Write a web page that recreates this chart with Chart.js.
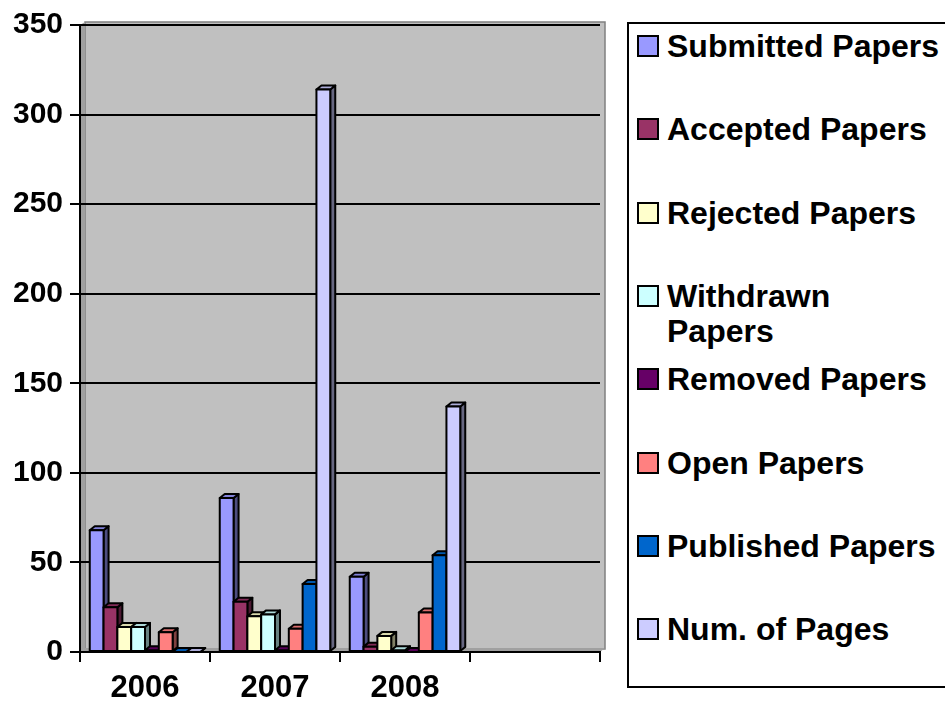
<!DOCTYPE html>
<html><head><meta charset="utf-8">
<script src="https://cdn.jsdelivr.net/npm/chart.js@4"></script>
<style>
html,body{margin:0;padding:0;background:#fff;overflow:hidden}
#wrap{position:relative;width:945px;height:704px}
#c{position:absolute;left:0;top:0}
#legend{position:absolute;left:627px;top:22px;width:340px;height:666px;border:2px solid #000;box-sizing:border-box;background:#fff}
.item{position:absolute;left:8px;display:flex;align-items:flex-start;font:bold 32px "Liberation Sans",Arial,sans-serif;line-height:35px;color:#000}
.sw{width:18px;height:18px;border:2px solid #000;margin-top:6px;margin-right:8px;flex:none}
.lbl{width:276px}
</style>
</head><body>
<div id="wrap">
<canvas id="c" width="945" height="704"></canvas>
<div id="legend"></div>
</div>
<script>
const categories = ['2006', '2007', '2008', ''];
const seriesNames = ['Submitted Papers','Accepted Papers','Rejected Papers','Withdrawn Papers','Removed Papers','Open Papers','Published Papers','Num. of Pages'];
const submitted = [68, 86, 42, null];
const accepted  = [25, 28, 3, null];
const rejected  = [14, 20, 9, null];
const withdrawn = [14, 21, 1, null];
const removed   = [1, 1, 0, null];
const openP     = [11, 13, 22, null];
const published = [0, 38, 54, null];
const pages     = [0, 314, 137, null];
const yTicks = [0, 50, 100, 150, 200, 250, 300, 350];
const seriesColors = ['#9999FF','#993366','#FFFFCC','#CCFFFF','#660066','#FF8080','#0066CC','#CCCCFF'];

const seriesValues = [submitted, accepted, rejected, withdrawn, removed, openP, published, pages];
const DX = 5, DY = 4;

function shade(hex, f){
  const n = parseInt(hex.slice(1),16);
  const r = Math.round(((n>>16)&255)*f), g = Math.round(((n>>8)&255)*f), b = Math.round((n&255)*f);
  return 'rgb('+r+','+g+','+b+')';
}
function poly(ctx, pts, fill){
  ctx.beginPath();
  ctx.moveTo(pts[0][0], pts[0][1]);
  for (let i=1;i<pts.length;i++) ctx.lineTo(pts[i][0], pts[i][1]);
  ctx.closePath();
  ctx.fillStyle = fill; ctx.fill();
  ctx.lineWidth = 2; ctx.strokeStyle = '#000'; ctx.lineJoin = 'round'; ctx.stroke();
}

const wall3d = {
  id: 'wall3d',
  beforeDraw(chart){
    const {ctx, chartArea:a} = chart;
    ctx.save();
    ctx.fillStyle = '#C0C0C0';
    ctx.fillRect(a.left+DX, a.top-DY+1, a.right-a.left, a.bottom-a.top);
    ctx.strokeStyle = '#808080'; ctx.lineWidth = 1.5;
    ctx.strokeRect(a.left+DX, a.top-DY+1, a.right-a.left, a.bottom-a.top);
    ctx.fillStyle = '#A0A0A0';
    ctx.beginPath();
    ctx.moveTo(a.left, a.top); ctx.lineTo(a.left+DX, a.top-DY+1); ctx.lineTo(a.left+DX, a.bottom-DY+1); ctx.lineTo(a.left, a.bottom); ctx.closePath(); ctx.fill();
    ctx.beginPath();
    ctx.moveTo(a.left, a.bottom); ctx.lineTo(a.left+DX, a.bottom-DY); ctx.lineTo(a.right+DX, a.bottom-DY); ctx.lineTo(a.right, a.bottom); ctx.closePath(); ctx.fill();
    ctx.restore();
  }
};

const bar3d = {
  id: 'bar3d',
  afterDatasetsDraw(chart){
    const ctx = chart.ctx;
    ctx.save();
    chart.data.datasets.forEach((ds, i) => {
      const meta = chart.getDatasetMeta(i);
      const col = seriesColors[i];
      meta.data.forEach((el, j) => {
        if (ds.data[j] === null || ds.data[j] === undefined) return;
        const p = el.getProps(['x','y','base','width'], true);
        if (!isFinite(p.y)) return;
        const x1 = p.x - p.width/2, x2 = p.x + p.width/2;
        poly(ctx, [[x2,p.y],[x2+DX,p.y-DY],[x2+DX,p.base-DY],[x2,p.base]], shade(col,0.5));
        poly(ctx, [[x1,p.y],[x1+DX,p.y-DY],[x2+DX,p.y-DY],[x2,p.y]], shade(col,0.85));
        if (p.base - p.y > 1) {
          ctx.beginPath(); ctx.rect(x1, p.y, x2-x1, p.base-p.y);
          ctx.fillStyle = col; ctx.fill();
          ctx.lineWidth = 2; ctx.strokeStyle = '#000'; ctx.stroke();
        }
      });
    });
    ctx.restore();
  }
};

const font = '"Liberation Sans", Arial, sans-serif';
new Chart(document.getElementById('c'), {
  type: 'bar',
  data: {
    labels: categories,
    datasets: seriesNames.map((n, i) => ({
      label: n, data: seriesValues[i], backgroundColor: seriesColors[i],
      borderColor: '#000', borderWidth: 2, categoryPercentage: 0.85, barPercentage: 1.0
    }))
  },
  options: {
    responsive: false, animation: false, devicePixelRatio: 1,
    layout: { padding: { top: 22, right: 345, left: 0, bottom: 0 } },
    plugins: { legend: { display: false }, tooltip: { enabled: false } },
    scales: {
      x: {
        offset: true,
        grid: { display: true, drawOnChartArea: false, offset: true, color: '#000', lineWidth: 2, tickLength: 10, tickColor: '#000' },
        border: { display: true, color: '#000', width: 2 },
        ticks: { color: '#000', font: { family: font, size: 31, weight: 'bold' }, padding: 8, maxRotation: 0, autoSkip: false },
        afterFit(s){ s.height = 52; }
      },
      y: {
        min: 0, max: 350,
        afterBuildTicks(s){ s.ticks = yTicks.map(v => ({ value: v })); },
        grid: { color: '#000', lineWidth: 2, tickLength: 10, tickColor: '#000' },
        border: { display: true, color: '#000', width: 2 },
        ticks: { color: '#000', font: { family: font, size: 30, weight: 'bold' }, padding: 7 },
        afterFit(s){ s.width = 80; }
      }
    }
  },
  plugins: [wall3d, bar3d]
});

const lg = document.getElementById('legend');
seriesNames.forEach((n, i) => {
  const it = document.createElement('div');
  it.className = 'item';
  it.style.top = (5 + i*83.3) + 'px';
  const sw = document.createElement('div'); sw.className = 'sw'; sw.style.background = seriesColors[i];
  const lb = document.createElement('div'); lb.className = 'lbl'; lb.textContent = n;
  it.appendChild(sw); it.appendChild(lb); lg.appendChild(it);
});
</script>
</body></html>
